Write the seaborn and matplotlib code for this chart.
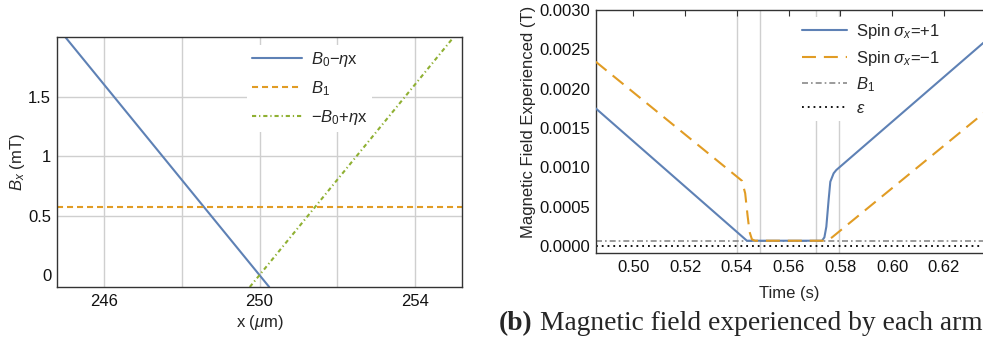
import matplotlib
matplotlib.use("Agg")
import matplotlib.pyplot as plt
import seaborn as sns
import numpy as np
import pandas as pd

# ---------------- data: left panel ----------------
left_pos_blue = [245.0, 250.25]          # x (um)
left_field_blue = [2.0, -0.1]            # B0 - eta x (mT)
left_pos_green = [249.75, 255.0]
left_field_green = [-0.1, 2.0]           # -B0 + eta x (mT)
left_B1 = 0.57                           # B1 (mT)
left_xticks = [246, 250, 254]
left_minor_xticks = [245, 247, 248, 249, 251, 252, 253, 255]
left_xgrid = [246, 248, 250, 252, 254]
left_yticks = [0, 0.5, 1, 1.5]
left_yticklabels = ["0", "0.5", "1", "1.5"]
left_ygrid = [0.5, 1.0, 1.5]
left_xlim = (244.78, 255.22)
left_ylim = (-0.1, 2.0)

# ---------------- data: right panel ----------------
t_up = [0.48545, 0.54387, 0.57288, 0.5738, 0.57455, 0.57543, 0.57609, 0.57737, 0.5784, 0.63527]
B_up = [0.001750, 0.0000674, 0.0000674, 0.00011, 0.000245, 0.000585, 0.000817, 0.000924, 0.000966, 0.002584]
t_down = [0.48545, 0.54193, 0.5432, 0.5441, 0.54487, 0.5458, 0.5470, 0.5742, 0.5755, 0.57675, 0.63527]
B_down = [0.002343, 0.00083, 0.00067, 0.000394, 0.000182, 0.000085, 0.0000674, 0.0000674, 0.000085, 0.00011, 0.001687]
right_B1 = 0.00007
right_eps = 0.000005
event_times = [0.54, 0.5488, 0.5706, 0.5794]
right_xticks = [0.50, 0.52, 0.54, 0.56, 0.58, 0.60, 0.62]
right_yticks = [0.0, 0.0005, 0.0010, 0.0015, 0.0020, 0.0025, 0.0030]
right_xlim = (0.48545, 0.63527)
right_ylim = (-0.0000925, 0.0030)

caption_bold = "(b)"
caption_text = "Magnetic field experienced by each arm"

# ---------------- style ----------------
sns.set_style("white")
plt.rcParams["font.family"] = ["Liberation Sans", "DejaVu Sans"]
plt.rcParams["mathtext.fontset"] = "custom"
plt.rcParams["mathtext.rm"] = "Liberation Sans"
plt.rcParams["mathtext.it"] = "Liberation Sans:italic"
plt.rcParams["mathtext.bf"] = "Liberation Sans:bold"
plt.rcParams["axes.unicode_minus"] = True

BLUE = "#5E81B5"
ORANGE = "#E19C24"
GREEN = "#8FB032"
GRID = "#cfcfcf"
SPINE = "#333333"
FS = 12

fig = plt.figure(figsize=(9.83, 3.38), dpi=100)
W, H = 983, 338
ax1 = fig.add_axes([56.7 / W, (H - 287) / H, (462.3 - 56.7) / W, 250 / H])
ax2 = fig.add_axes([595.7 / W, (H - 253.3) / H, (983.5 - 595.7) / W, (253.3 - 10) / H])

# ---------- left panel ----------
for g in left_xgrid:
    ax1.axvline(g, color=GRID, lw=1.0, zorder=0)
for g in left_ygrid:
    ax1.axhline(g, color=GRID, lw=1.0, zorder=0)

sns.lineplot(x=left_pos_blue, y=left_field_blue, ax=ax1, color=BLUE, lw=1.5,
             sort=False, estimator=None, label=r"$B_0$−$\eta$x")
sns.lineplot(x=list(left_xlim), y=[left_B1, left_B1], ax=ax1, color=ORANGE, lw=1.5,
             sort=False, estimator=None, label=r"$B_1$", linestyle=(0, (2.9, 1.9)))
sns.lineplot(x=left_pos_green, y=left_field_green, ax=ax1, color=GREEN, lw=1.5,
             sort=False, estimator=None, label=r"−$B_0$+$\eta$x",
             linestyle=(0, (2.0, 1.4, 0.6, 1.4)))

ax1.set_xlim(*left_xlim)
ax1.set_ylim(*left_ylim)
ax1.set_xticks(left_xticks)
ax1.set_xticks(left_minor_xticks, minor=True)
ax1.set_yticks(left_yticks)
ax1.set_yticklabels(left_yticklabels)
ax1.tick_params(axis="both", which="both", direction="in", color=SPINE, labelsize=FS,
                labelcolor="#111111")
ax1.tick_params(axis="both", which="major", length=5, width=0.8)
ax1.tick_params(axis="both", which="minor", length=3, width=0.8)
ax1.tick_params(axis="x", pad=5)
ax1.tick_params(axis="y", pad=4)
for s in ax1.spines.values():
    s.set_color(SPINE)
    s.set_linewidth(1.0)
ax1.set_xlabel(r"x ($\mu$m)", fontsize=FS, labelpad=3)
ax1.set_ylabel(r"$B_x$ (mT)", fontsize=FS, labelpad=1)
leg1 = ax1.legend(loc="upper left", bbox_to_anchor=(0.468, 0.969), frameon=True,
                  facecolor="white", edgecolor="none", framealpha=1.0, fontsize=FS,
                  handlelength=3.0, handletextpad=0.55, labelspacing=0.62,
                  borderpad=0.3, borderaxespad=0.0, fancybox=False)

# ---------- right panel ----------
for g in event_times:
    ax2.axvline(g, color=GRID, lw=1.0, zorder=0)
ax2.axhline(right_B1, color="#8a8a8a", lw=1.2, linestyle=(0, (3.6, 1.8, 1.0, 1.8)),
            label=r"$B_1$", zorder=1)
ax2.axhline(right_eps, color="black", lw=1.3, linestyle=(0, (1.0, 2.2)),
            label=r"$\epsilon$", zorder=1)
sns.lineplot(x=t_up, y=B_up, ax=ax2, color=BLUE, lw=1.5, sort=False, estimator=None,
             label=r"Spin $\sigma_x$=+1", zorder=6)
sns.lineplot(x=t_down, y=B_down, ax=ax2, color=ORANGE, lw=1.5, sort=False, estimator=None,
             label=r"Spin $\sigma_x$=−1", linestyle=(0, (6.7, 3.8)), zorder=7)

ax2.set_xlim(*right_xlim)
ax2.set_ylim(*right_ylim)
ax2.set_xticks(right_xticks)
ax2.set_xticklabels([f"{v:.2f}" for v in right_xticks])
ax2.set_yticks(right_yticks)
ax2.set_yticklabels([f"{v:.4f}" for v in right_yticks])
ax2.tick_params(axis="both", which="both", direction="in", color=SPINE, labelsize=FS,
                labelcolor="#111111", length=4, width=0.8)
ax2.tick_params(axis="x", top=True, pad=5)
ax2.tick_params(axis="y", pad=4)
for s in ax2.spines.values():
    s.set_color(SPINE)
    s.set_linewidth(1.0)
ax2.spines["right"].set_visible(False)
ax2.set_xlabel("Time (s)", fontsize=FS, labelpad=8)
ax2.set_ylabel("Magnetic Field Experienced (T)", fontsize=FS)
ax2.yaxis.set_label_coords(-0.154, 0.541)

handles, labels = ax2.get_legend_handles_labels()
order = [labels.index(l) for l in [r"Spin $\sigma_x$=+1", r"Spin $\sigma_x$=−1", r"$B_1$", r"$\epsilon$"]]
leg2 = ax2.legend([handles[i] for i in order], [labels[i] for i in order],
                  loc="upper left", bbox_to_anchor=(0.519, 0.971), frameon=True,
                  facecolor="white", edgecolor="none", framealpha=1.0, fontsize=FS,
                  handlelength=2.7, handletextpad=0.55, labelspacing=0.45,
                  borderpad=0.3, borderaxespad=0.0, fancybox=False)
leg2.set_zorder(5)

# ---------- caption ----------
base_y = (H - 330.5) / H
tb = fig.text(499.0 / W, base_y, caption_bold, family="Liberation Serif",
              fontweight="bold", fontsize=19.8, va="baseline", ha="left")
fig.canvas.draw()
bb = tb.get_window_extent(renderer=fig.canvas.get_renderer())
fig.text((bb.x1 + 7.0) / W, base_y, caption_text, family="Liberation Serif",
         fontsize=19.8, va="baseline", ha="left")

fig.savefig("out.png", dpi=100)
